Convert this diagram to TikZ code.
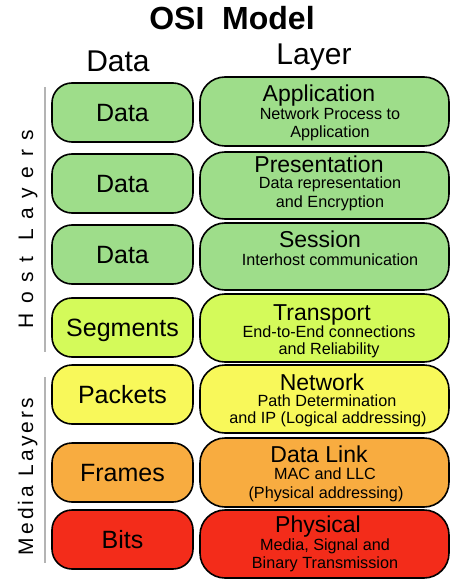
\documentclass[tikz,border=0pt]{standalone}
\usepackage{fontspec}
\setmainfont{Liberation Sans}
\definecolor{cgreen}{HTML}{9EDD8A}
\definecolor{clime}{HTML}{D4FA5A}
\definecolor{cyellow}{HTML}{F8F85A}
\definecolor{corange}{HTML}{F8AC40}
\definecolor{cred}{HTML}{F32C1A}
\definecolor{sidegray}{HTML}{B4B4B4}
\tikzset{
  databox/.style={draw=black, line width=1.6pt, rounded corners=20pt, minimum width=141pt, minimum height=59pt, inner sep=0pt, font=\fontsize{25}{25}\selectfont, text height=17.9pt, text depth=0pt},
  layerbox/.style={draw=black, line width=1.6pt, rounded corners=25pt, minimum width=249pt, inner sep=0pt},
  ltitle/.style={anchor=base, inner sep=0pt, font=\fontsize{23}{23}\selectfont},
  lsub/.style={anchor=base, inner sep=0pt, font=\fontsize{16.2}{16.2}\selectfont},
  head/.style={anchor=base, inner sep=0pt, font=\fontsize{30}{30}\selectfont},
  sideline/.style={draw=sidegray, line width=2.6pt},
  sidetext/.style={anchor=base, rotate=90, inner sep=0pt}
}
\begin{document}
\begin{tikzpicture}[x=1pt, y=-1pt]
\useasboundingbox (0,0) rectangle (450,580);
% title and headers
\node[anchor=base, inner sep=0pt, font=\bfseries\fontsize{32}{32}\selectfont] (title) at (232,30) {OSI\ \ Model};
\node[head] (hdata) at (118,72) {Data};
\node[head] (hlayer) at (314,65) {Layer};
% left data boxes
\node[databox, fill=cgreen]  (d1) at (122.5,112.5) {Data};
\node[databox, fill=cgreen]  (d2) at (122.5,183.5) {Data};
\node[databox, fill=cgreen]  (d3) at (122.5,254.5) {Data};
\node[databox, fill=clime]   (d4) at (122.5,327.5) {Segments};
\node[databox, fill=cyellow] (d5) at (122.5,394.5) {Packets};
\node[databox, fill=corange] (d6) at (122.5,472.5) {Frames};
\node[databox, fill=cred]    (d7) at (122.5,539.5) {Bits};
% right layer boxes
\node[layerbox, fill=cgreen,  minimum height=69pt] (l1) at (324.5,111.5) {};
\node[layerbox, fill=cgreen,  minimum height=67pt] (l2) at (324.5,185.5) {};
\node[layerbox, fill=cgreen,  minimum height=67pt] (l3) at (324.5,256.5) {};
\node[layerbox, fill=clime,   minimum height=68pt] (l4) at (324.5,328) {};
\node[layerbox, fill=cyellow, minimum height=68pt] (l5) at (324.5,399) {};
\node[layerbox, fill=corange, minimum height=69pt] (l6) at (324.5,472.5) {};
\node[layerbox, fill=cred,    minimum height=68pt] (l7) at (324.5,544) {};
% layer texts
\node[ltitle] (t1) at (319,102) {Application};
\node[lsub] (s1a) at (330,120) {Network Process to};
\node[lsub] (s1b) at (330,138) {Application};
\node[ltitle] (t2) at (319,172) {Presentation};
\node[lsub] (s2a) at (330,188) {Data representation};
\node[lsub] (s2b) at (330,207) {and Encryption};
\node[ltitle] (t3) at (320,247) {Session};
\node[lsub] (s3a) at (330,265) {Interhost communication};
\node[ltitle] (t4) at (322,320) {Transport};
\node[lsub] (s4a) at (329,337) {End-to-End connections};
\node[lsub] (s4b) at (329,354) {and Reliability};
\node[ltitle] (t5) at (322,390) {Network};
\node[lsub] (s5a) at (327,406) {Path Determination};
\node[lsub] (s5b) at (328,423.5) {and IP (Logical addressing)};
\node[ltitle] (t6) at (319,462) {Data Link};
\node[lsub] (s6a) at (325,479) {MAC and LLC};
\node[lsub] (s6b) at (326,498) {(Physical addressing)};
\node[ltitle] (t7) at (318,532) {Physical};
\node[lsub] (s7a) at (325,550) {Media, Signal and};
\node[lsub] (s7b) at (325,568) {Binary Transmission};
% side labels
\coordinate (h1) at (45,87);
\coordinate (h2) at (45,352);
\coordinate (m1) at (45,377);
\coordinate (m2) at (45,563);
\draw[sideline] (h1) -- (h2);
\draw[sideline] (m1) -- (m2);
\node[sidetext, font=\fontsize{21}{21}\selectfont\addfontfeature{LetterSpace=46}] (host) at (33,229) {Host Layers};
\node[sidetext, font=\fontsize{21}{21}\selectfont\addfontfeature{LetterSpace=15}] (media) at (33,476.5) {Media Layers};
\end{tikzpicture}
\end{document}
